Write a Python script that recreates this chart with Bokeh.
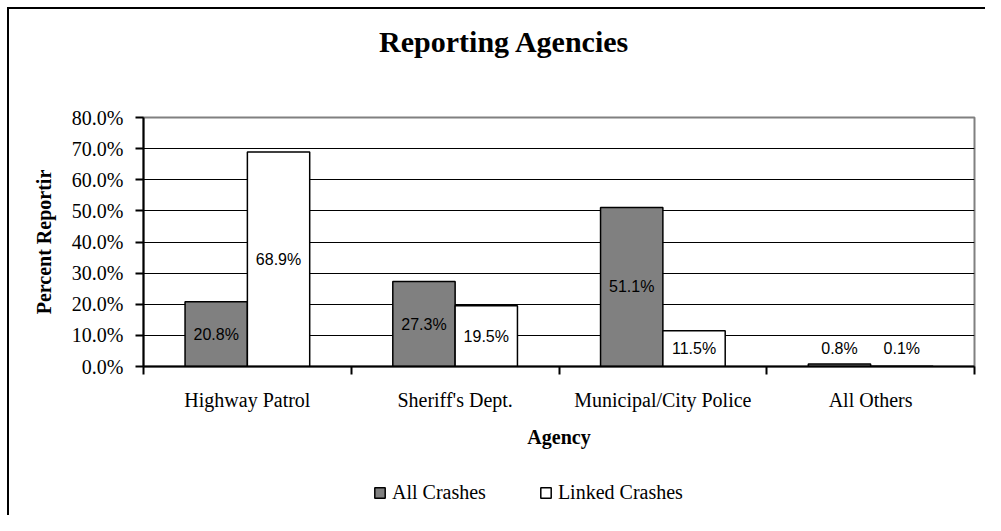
import numpy as np
from bokeh.plotting import figure
from bokeh.layouts import column
from bokeh.models import ColumnDataSource, Range1d, FixedTicker, Legend, LegendItem, Label
from bokeh.core.properties import value
from bokeh.embed import file_html
from bokeh.resources import INLINE

categories = ["Highway Patrol", "Sheriff's Dept.", "Municipal/City Police", "All Others"]
all_crashes = [20.8, 27.3, 51.1, 0.8]
linked_crashes = [68.9, 19.5, 11.5, 0.1]
y_ticks = [0, 10, 20, 30, 40, 50, 60, 70, 80]
y_tick_labels = ["0.0%", "10.0%", "20.0%", "30.0%", "40.0%", "50.0%", "60.0%", "70.0%", "80.0%"]
series_names = ["All Crashes", "Linked Crashes"]
title_text = "Reporting Agencies"
x_title = "Agency"
y_title = "Percent Reportir"

SERIF = "Liberation Serif"
SANS = "Liberation Sans"

W = 985
H_TOP, H_MAIN, H_LEG = 102, 363, 50
FL, FT, FW, FH = 143, 15, 831, 249

def blank(h, xr):
    f = figure(width=W, height=h, output_backend="svg", toolbar_location=None,
               x_range=xr, y_range=Range1d(0, 1),
               x_axis_location=None, y_axis_location=None, min_border=0)
    f.outline_line_color = None
    f.grid.visible = False
    f.border_fill_alpha = 0
    f.background_fill_alpha = 0
    return f

# ---- title strip (frame is aligned with the main chart's frame by the column)
pt = blank(H_TOP, Range1d(0, 1))
pt.add_layout(Label(x=504 - FL, y=H_TOP - 41, x_units="screen", y_units="screen", text=title_text,
                    text_font=SERIF, text_font_size="30px", text_font_style="bold",
                    text_align="center", text_baseline="alphabetic", text_color="black"))

# ---- main chart
idx = np.arange(len(categories))
bar_w = 0.3
x_all = idx + 0.5 - bar_w / 2
x_link = idx + 0.5 + bar_w / 2

p = figure(width=W, height=H_MAIN, output_backend="svg", toolbar_location=None,
           x_range=Range1d(0, len(categories)), y_range=Range1d(0, 80),
           min_border_left=FL, min_border_right=W - FL - FW,
           min_border_top=FT, min_border_bottom=H_MAIN - FT - FH)
p.border_fill_alpha = 0
p.background_fill_color = "white"
p.outline_line_color = "#808080"
p.outline_line_width = 2
p.xgrid.visible = False
p.ygrid.ticker = FixedTicker(ticks=y_ticks[1:-1])
p.ygrid.grid_line_color = "black"
p.ygrid.grid_line_width = 1

src_all = ColumnDataSource(dict(x=x_all, top=all_crashes))
src_link = ColumnDataSource(dict(x=x_link, top=linked_crashes))
bar_all = dict(fill_color="#808080", line_color="black", line_width=1.5)
bar_link = dict(fill_color="white", line_color="black", line_width=1.5)
p.vbar(x="x", top="top", width=bar_w, source=src_all, **bar_all)
p.vbar(x="x", top="top", width=bar_w, source=src_link, **bar_link)

lab_x = np.concatenate([x_all, x_link])
vals = np.array(all_crashes + linked_crashes)
lab_src = ColumnDataSource(dict(x=lab_x, y=np.maximum(vals / 2, 5.75),
                                t=[f"{v:.1f}%" for v in vals]))
p.text(x="x", y="y", text="t", source=lab_src, text_align="center", text_baseline="middle",
       text_font=value(SANS), text_font_size="16px", text_color="black")

p.xaxis.ticker = FixedTicker(ticks=list(idx + 0.5), minor_ticks=list(range(len(categories) + 1)))
p.xaxis.major_label_overrides = {float(i + 0.5): c for i, c in enumerate(categories)}
p.xaxis.major_tick_out = 0
p.xaxis.major_tick_in = 0
p.xaxis.minor_tick_out = 8
p.xaxis.minor_tick_in = 0
p.xaxis.minor_tick_line_color = "black"
p.xaxis.minor_tick_line_width = 2
p.xaxis.axis_line_color = "black"
p.xaxis.axis_line_width = 2
p.xaxis.major_label_text_font = SERIF
p.xaxis.major_label_text_font_size = "20px"
p.xaxis.major_label_text_color = "black"
p.xaxis.major_label_standoff = 14
p.xaxis.axis_label = x_title
p.xaxis.axis_label_text_font = SERIF
p.xaxis.axis_label_text_font_size = "20px"
p.xaxis.axis_label_text_font_style = "bold"
p.xaxis.axis_label_text_color = "black"
p.xaxis.axis_label_standoff = 12

p.yaxis.ticker = FixedTicker(ticks=y_ticks)
p.yaxis.major_label_overrides = {t: l for t, l in zip(y_ticks, y_tick_labels)}
p.yaxis.major_tick_out = 8
p.yaxis.major_tick_in = 0
p.yaxis.major_tick_line_width = 2
p.yaxis.minor_tick_line_color = None
p.yaxis.axis_line_color = "black"
p.yaxis.axis_line_width = 2
p.yaxis.major_label_text_font = SERIF
p.yaxis.major_label_text_font_size = "20px"
p.yaxis.major_label_text_color = "black"
p.yaxis.major_label_standoff = 12
p.yaxis.axis_label = y_title
p.yaxis.axis_label_text_font = SERIF
p.yaxis.axis_label_text_font_size = "20px"
p.yaxis.axis_label_text_font_style = "bold"
p.yaxis.axis_label_text_color = "black"
p.yaxis.axis_label_standoff = 14

# ---- legend strip: hidden renderers that only supply the legend swatches
pl = blank(H_LEG, Range1d(0, 1))
l_all = pl.vbar(x="x", top="top", width=bar_w, source=src_all, visible=False, **bar_all)
l_link = pl.vbar(x="x", top="top", width=bar_w, source=src_link, visible=False, **bar_link)
legend = Legend(items=[LegendItem(label=series_names[0], renderers=[l_all]),
                       LegendItem(label=series_names[1], renderers=[l_link])],
                location=(373 - FL, 11), orientation="horizontal",
                glyph_width=13, glyph_height=13, label_standoff=6, spacing=53,
                padding=0, margin=0, border_line_color=None, background_fill_alpha=0,
                label_text_font=SERIF, label_text_font_size="20px", label_text_color="black")
pl.add_layout(legend)

layout = column(pt, p, pl, spacing=0)
# outer chart border: top and left edges, 7px inside the picture
layout.styles = {"box-shadow": "inset 7px 7px 0 0 white, inset 9px 9px 0 0 black"}

open("out.html", "w").write(file_html(layout, INLINE))
